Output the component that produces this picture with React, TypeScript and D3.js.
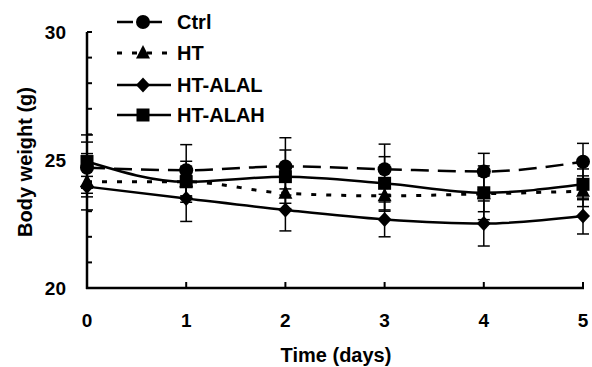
import React from "react";
import * as d3 from "d3";

const days = [0, 1, 2, 3, 4, 5];
const ctrl = [24.7, 24.6, 24.75, 24.64, 24.55, 24.93];
const ctrlErr = [1.0, 1.0, 1.12, 0.98, 0.71, 0.72];
const ht = [24.15, 24.15, 23.7, 23.6, 23.68, 23.78];
const htErr = [1.1, 0.8, 0.6, 0.6, 0.7, 0.6];
const alal = [23.96, 23.5, 23.05, 22.68, 22.52, 22.81];
const alalErr = [0.4, 0.9, 0.82, 0.68, 0.88, 0.7];
const alah = [24.94, 24.15, 24.35, 24.09, 23.72, 24.05];
const alahErr = [1.04, 0.6, 1.04, 1.04, 1.05, 0.6];
const yTicks = [20, 25, 30];
const seriesNames = ["Ctrl", "HT", "HT-ALAL", "HT-ALAH"];

const FONT = "Arial, 'Liberation Sans', sans-serif";

type S = { name: string; v: number[]; e: number[]; dash: string; marker: string };
const series: S[] = [
  { name: seriesNames[0], v: ctrl, e: ctrlErr, dash: "18,9", marker: "circle" },
  { name: seriesNames[1], v: ht, e: htErr, dash: "5,10", marker: "triangle" },
  { name: seriesNames[2], v: alal, e: alalErr, dash: "", marker: "diamond" },
  { name: seriesNames[3], v: alah, e: alahErr, dash: "", marker: "square" },
];

function Marker({ type, x, y }: { type: string; x: number; y: number }) {
  if (type === "circle") return <circle cx={x} cy={y} r={7} fill="#000" />;
  if (type === "square") return <rect x={x - 6.5} y={y - 6.5} width={13} height={13} fill="#000" />;
  if (type === "diamond")
    return <path d={`M${x},${y - 7.5}L${x + 7},${y}L${x},${y + 7.5}L${x - 7},${y}Z`} fill="#000" />;
  return <path d={`M${x},${y - 8}L${x + 7},${y + 5.5}L${x - 7},${y + 5.5}Z`} fill="#000" />;
}

export default function App() {
  const W = 592, H = 367;
  const x = d3.scaleLinear().domain([0, 5]).range([87, 583]);
  const y = d3.scaleLinear().domain([20, 30]).range([288, 32]);
  const line = d3.line<number>().x((_, i) => x(days[i])).y((d) => y(d)).curve(d3.curveMonotoneX);
  const minor = d3.range(20, 31, 1);
  const legendY = [22, 53, 85, 115];

  return (
    <svg width={W} height={H} style={{ position: "absolute", left: 0, top: 0, background: "#fff" }}>
      <rect width={W} height={H} fill="#fff" />
      {/* axes */}
      <line x1={x(0)} x2={x(0)} y1={y(30)} y2={y(20) + 1} stroke="#000" strokeWidth={2.5} />
      <line x1={x(0) - 1} x2={x(5) + 1} y1={y(20)} y2={y(20)} stroke="#000" strokeWidth={2.5} />
      {minor.map((t) => (
        <line key={t} x1={x(0)} x2={x(0) + 5} y1={y(t)} y2={y(t)} stroke="#000" strokeWidth={2} />
      ))}
      {days.map((d) => (
        <line key={d} x1={x(d)} x2={x(d)} y1={y(20)} y2={y(20) - 6} stroke="#000" strokeWidth={2} />
      ))}
      {yTicks.map((t) => (
        <text key={t} x={66} y={y(t) + 7} textAnchor="end" fontFamily={FONT} fontWeight="bold" fontSize={19}>
          {t}
        </text>
      ))}
      {days.map((d) => (
        <text key={d} x={x(d)} y={327} textAnchor="middle" fontFamily={FONT} fontWeight="bold" fontSize={19}>
          {d}
        </text>
      ))}
      <text x={336} y={362} textAnchor="middle" fontFamily={FONT} fontWeight="bold" fontSize={20}>
        Time (days)
      </text>
      <text
        transform={`translate(32,${162}) rotate(-90)`}
        textAnchor="middle"
        fontFamily={FONT}
        fontWeight="bold"
        fontSize={20}
      >
        Body weight (g)
      </text>
      {/* error bars */}
      {series.map((s) =>
        s.v.map((v, i) => {
          const cx = x(days[i]);
          const t = y(v + s.e[i]);
          const b = y(v - s.e[i]);
          return (
            <g key={s.name + i} stroke="#000" strokeWidth={1.5}>
              <line x1={cx} x2={cx} y1={t} y2={b} />
              <line x1={cx - 6} x2={cx + 6} y1={t} y2={t} />
              <line x1={cx - 6} x2={cx + 6} y1={b} y2={b} />
            </g>
          );
        })
      )}
      {/* lines */}
      {series.map((s) => (
        <path
          key={s.name}
          d={line(s.v) || ""}
          fill="none"
          stroke="#000"
          strokeWidth={s.marker === "triangle" ? 3 : 2.5}
          strokeDasharray={s.dash || undefined}
        />
      ))}
      {series.map((s) => s.v.map((v, i) => <Marker key={s.name + "m" + i} type={s.marker} x={x(days[i])} y={y(v)} />))}
      {/* legend */}
      {series.map((s, k) => (
        <g key={"lg" + k}>
          <line
            x1={117}
            x2={k === 0 ? 162 : 171}
            y1={legendY[k]}
            y2={legendY[k]}
            stroke="#000"
            strokeWidth={s.marker === "triangle" ? 3 : 2.5}
            strokeDasharray={k === 0 ? "16,15,20" : k === 1 ? "5,10" : undefined}
          />
          <Marker type={s.marker} x={143} y={legendY[k]} />
          <text x={177} y={legendY[k] + 7} fontFamily={FONT} fontWeight="bold" fontSize={20}>
            {s.name}
          </text>
        </g>
      ))}
    </svg>
  );
}
